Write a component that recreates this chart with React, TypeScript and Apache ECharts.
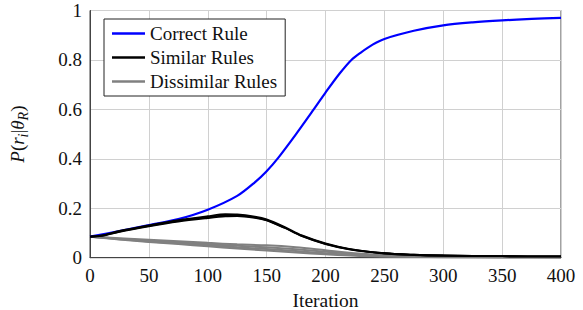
import React, { useEffect, useRef } from "react";
import * as echarts from "echarts";

const correctIter = [0, 25, 50, 75, 100, 125, 140, 150, 160, 175, 190, 200, 212, 222, 230, 240, 250, 275, 300, 325, 350, 375, 400];
const correctRule = [0.085, 0.108, 0.132, 0.156, 0.194, 0.25, 0.305, 0.35, 0.405, 0.5, 0.6, 0.668, 0.745, 0.8, 0.83, 0.862, 0.885, 0.918, 0.94, 0.952, 0.96, 0.966, 0.97];

const similarIter = [0, 10, 25, 50, 75, 100, 115, 125, 140, 150, 165, 180, 200, 220, 250, 275, 300, 350, 400];
const similar1 = [0.085, 0.09, 0.108, 0.131, 0.152, 0.168, 0.176, 0.175, 0.166, 0.155, 0.125, 0.09, 0.058, 0.036, 0.018, 0.012, 0.009, 0.006, 0.005];
const similar2 = [0.085, 0.089, 0.106, 0.129, 0.149, 0.164, 0.171, 0.171, 0.163, 0.152, 0.122, 0.088, 0.056, 0.035, 0.018, 0.012, 0.009, 0.006, 0.005];
const similar3 = [0.085, 0.088, 0.105, 0.127, 0.146, 0.16, 0.167, 0.168, 0.161, 0.151, 0.121, 0.087, 0.055, 0.034, 0.017, 0.011, 0.008, 0.006, 0.005];

const dissimIter = [0, 25, 50, 75, 100, 125, 150, 175, 200, 225, 250, 275, 300, 350, 400];
const dissim1 = [0.085, 0.079, 0.073, 0.067, 0.06, 0.054, 0.05, 0.042, 0.03, 0.018, 0.01, 0.006, 0.004, 0.003, 0.002];
const dissim2 = [0.085, 0.077, 0.069, 0.062, 0.055, 0.048, 0.042, 0.034, 0.024, 0.014, 0.008, 0.005, 0.003, 0.002, 0.002];
const dissim3 = [0.085, 0.075, 0.066, 0.058, 0.05, 0.042, 0.035, 0.027, 0.018, 0.011, 0.006, 0.004, 0.003, 0.002, 0.001];
const dissim4 = [0.085, 0.074, 0.064, 0.055, 0.046, 0.037, 0.029, 0.021, 0.014, 0.008, 0.005, 0.003, 0.002, 0.001, 0.001];

const FONT = "Liberation Serif";

function pairs(xs: number[], ys: number[]) {
  return xs.map((x, i) => [x, ys[i]]);
}

export default function App() {
  const ref = useRef<HTMLDivElement>(null);
  useEffect(() => {
    if (!ref.current) return;
    const chart = echarts.init(ref.current, null, { renderer: "svg" });
    const line = (name: string, data: number[][], color: string, width: number) => ({
      type: "line",
      name,
      data,
      smooth: 0.3,
      symbol: "none",
      lineStyle: { color, width },
      itemStyle: { color },
    });
    chart.setOption({
      animation: false,
      backgroundColor: "#fff",
      textStyle: { fontFamily: FONT },
      grid: {
        left: 90,
        right: 22,
        top: 10.5,
        bottom: 52.3,
        containLabel: false,
        outerBoundsMode: "none",
        show: true,
        borderColor: "#444",
        borderWidth: 1,
      },
      legend: {
        data: ["Correct Rule", "Similar Rules", "Dissimilar Rules"],
        orient: "vertical",
        left: 104,
        top: 19,
        backgroundColor: "#fff",
        borderColor: "#222",
        borderWidth: 1,
        borderRadius: 0,
        padding: [5, 8, 5, 8],
        icon: "rect",
        itemWidth: 33,
        itemHeight: 2.5,
        itemGap: 5,
        textStyle: { fontFamily: FONT, fontSize: 19, color: "#111", lineHeight: 19 },
      },
      xAxis: {
        type: "value",
        min: 0,
        max: 400,
        interval: 50,
        name: "Iteration",
        nameLocation: "middle",
        nameGap: 33,
        nameTextStyle: { fontFamily: FONT, fontSize: 19.5, color: "#111" },
        axisLine: { show: true, lineStyle: { color: "#444", width: 1 } },
        axisTick: { show: false },
        axisLabel: { fontFamily: FONT, fontSize: 19, color: "#111", margin: 8 },
        splitLine: { show: true, lineStyle: { color: "#d0d0d0", width: 1 } },
      },
      yAxis: {
        type: "value",
        min: 0,
        max: 1,
        interval: 0.2,
        name: "{it|P}{n|(}{it|r}{sub|i}{n||}{it|θ}{sub|R}{n|)}",
        nameLocation: "middle",
        nameRotate: 90,
        nameGap: 60,
        nameTextStyle: {
          fontFamily: FONT,
          fontSize: 19,
          color: "#111",
          rich: {
            it: { fontFamily: FONT, fontSize: 19, fontStyle: "italic", color: "#111", lineHeight: 26, verticalAlign: "middle" },
            n: { fontFamily: FONT, fontSize: 19, color: "#111", lineHeight: 26, verticalAlign: "middle" },
            sub: { fontFamily: FONT, fontSize: 14, fontStyle: "italic", color: "#111", lineHeight: 14, verticalAlign: "bottom" },
          },
        },
        axisLine: { show: true, lineStyle: { color: "#444", width: 1 } },
        axisTick: { show: false },
        axisLabel: { fontFamily: FONT, fontSize: 19, color: "#111", margin: 8 },
        splitLine: { show: true, lineStyle: { color: "#d0d0d0", width: 1 } },
      },
      series: [
        line("Dissimilar Rules", pairs(dissimIter, dissim1), "#808080", 2),
        line("Dissimilar Rules", pairs(dissimIter, dissim2), "#808080", 2),
        line("Dissimilar Rules", pairs(dissimIter, dissim3), "#808080", 2),
        line("Dissimilar Rules", pairs(dissimIter, dissim4), "#808080", 2),
        line("Correct Rule", pairs(correctIter, correctRule), "#0000ff", 2.2),
        line("Similar Rules", pairs(similarIter, similar1), "#000000", 1.8),
        line("Similar Rules", pairs(similarIter, similar2), "#000000", 1.8),
        line("Similar Rules", pairs(similarIter, similar3), "#000000", 1.8),
      ],
    });
    return () => chart.dispose();
  }, []);
  return <div ref={ref} style={{ position: "fixed", left: 0, top: 0, width: 583, height: 310 }} />;
}
